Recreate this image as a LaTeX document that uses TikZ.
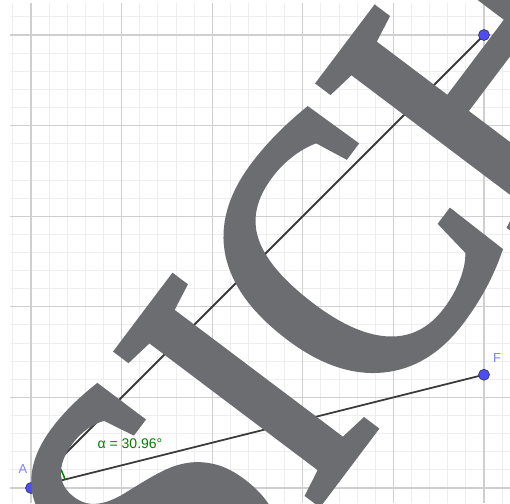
\documentclass[tikz,border=0pt]{standalone}
\usepackage{fontspec}
\setmainfont{Liberation Sans}
\newfontfamily\markfont[FakeBold=2.7,FakeStretch=0.89]{Liberation Serif}
\usetikzlibrary{angles}
\definecolor{minor}{HTML}{EEEEEE}
\definecolor{major}{HTML}{CFCFCF}
\definecolor{segcol}{HTML}{3A3A3A}
\definecolor{ptblue}{HTML}{4D4DFF}
\definecolor{lblblue}{HTML}{7F7FFF}
\definecolor{anggreen}{HTML}{007F00}
\definecolor{markgray}{HTML}{6C6D70}
\begin{document}
\begin{tikzpicture}[x=1pt, y=1pt,
    minorline/.style={draw=minor, line width=0.9pt},
    majorline/.style={draw=major, line width=1.3pt},
    seg/.style={draw=segcol, line width=1.8pt},
    pt/.style={circle, fill=ptblue, draw=black!80, line width=0.6pt, minimum size=11pt, inner sep=0pt},
    ptlabel/.style={text=lblblue, font=\fontsize{13}{13}\selectfont, inner sep=0pt},
    watermark/.style={text=markgray, font=\markfont\fontsize{380}{380}\selectfont, inner sep=0pt, rotate=53, anchor=base west}
  ]
    \useasboundingbox (0,0) rectangle (510,503);
    \fill[white] (0,0) rectangle (510,503);
    % grid
    \begin{scope}
      \clip (10,0) rectangle (510,500);
      \foreach \i in {-1,...,27} {
        \draw[minorline] (31+\i*18.12,0) -- (31+\i*18.12,500);
        \draw[minorline] (10,15+\i*18.12) -- (510,15+\i*18.12);
      }
      \foreach \i in {0,...,5} {
        \draw[majorline] (31+\i*90.6,0) -- (31+\i*90.6,500);
        \draw[majorline] (10,15+\i*90.6) -- (510,15+\i*90.6);
      }
    \end{scope}
    % points and segments
    \coordinate (A) at (31,15);
    \coordinate (B) at (484,468);
    \coordinate (F) at (484,128.25);
    \draw[seg] (A) -- (B);
    \draw[seg] (A) -- (F);
    \pic[draw=anggreen, fill=anggreen, fill opacity=0.06, draw opacity=1, line width=1.5pt, angle radius=35pt] {angle = F--A--B};
    \node[anggreen, font=\fontsize{14}{14}\selectfont] (alpha) at (130,59) {α = 30.96°};
    \node[pt] (ptA) at (A) {};
    \node[pt] (ptF) at (F) {};
    \node[pt] (ptB) at (B) {};
    \node[ptlabel] (lblA) at (23,34) {A};
    \node[ptlabel] (lblF) at (497,145) {F};
    % watermark over everything
    \begin{scope}
      \clip (0,0) rectangle (510,503);
      \node[watermark] (mark) at (198.3,-157.4) {SICH};
    \end{scope}
  \end{tikzpicture}
\end{document}
